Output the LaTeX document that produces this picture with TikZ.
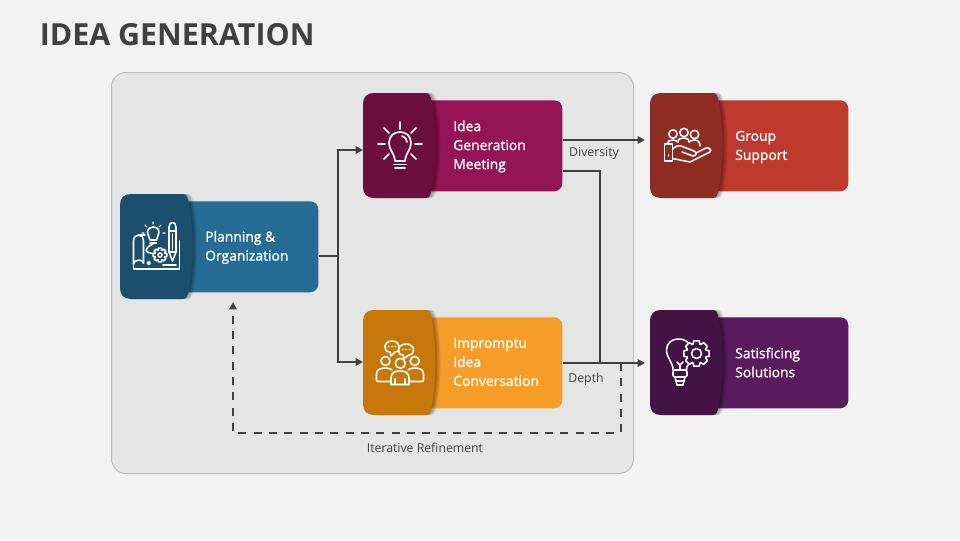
\documentclass[tikz,border=0pt]{standalone}
\usepackage{fontspec}
\setmainfont{Open Sans}
\newfontfamily\semi{Open Sans}[FakeBold=1.2]
\usetikzlibrary{arrows.meta,calc}
\definecolor{bg}{HTML}{F2F2F2}
\definecolor{panelfill}{HTML}{E5E5E5}
\definecolor{panelline}{HTML}{BDBDBD}
\definecolor{ink}{HTML}{404040}
\definecolor{blueL}{HTML}{266D96}\definecolor{blueD}{HTML}{1C4F6E}
\definecolor{magL}{HTML}{951455}\definecolor{magD}{HTML}{6D0F3E}
\definecolor{orgL}{HTML}{F59D27}\definecolor{orgD}{HTML}{C6780A}
\definecolor{redL}{HTML}{BE392E}\definecolor{redD}{HTML}{8E2B22}
\definecolor{purL}{HTML}{5A1A5E}\definecolor{purD}{HTML}{431346}
\tikzset{
  x=0.75pt,y=-0.75pt,
  bodybox/.style={rounded corners=6pt,minimum height=68.25pt,inner sep=0pt,anchor=north west},
  headbox/.style={minimum width=51pt,minimum height=78.75pt,inner sep=0pt,anchor=north west},
  cardtext/.style={text=white,anchor=west,align=left,inner sep=0pt,font=\semi\fontsize{10.4pt}{14.25pt}\selectfont},
  flowlabel/.style={text=ink,inner sep=0pt,font=\fontsize{9.2pt}{10pt}\selectfont},
  flow/.style={draw=ink,line width=1.5pt},
  flowarrow/.style={flow,-{Triangle[length=5.5pt,width=5.5pt]}},
  icon/.style={draw=white,line width=1.15pt,line cap=round,line join=round},
}
\newcommand{\headpath}{(11,0) -- (62,0) .. controls (66,0) and (67,2) .. (68,5) .. controls (74,35) and (74,70) .. (68,100) .. controls (67,103) and (66,105) .. (62,105) -- (11,105) .. controls (4,105) and (0,101) .. (0,94) -- (0,11) .. controls (0,4) and (4,0) .. (11,0) -- cycle}
% name, x, y, right edge, text position, light, dark, text
\newcommand{\card}[8]{%
  \begin{scope}[shift={(#2,#3)}]
    \node[bodybox,fill=#6,minimum width={(#4-#2-60)*0.75pt}] (#1) at (60,7) {};
    \foreach \o in {1,2,3,4,5}{\fill[black,opacity=0.08,shift={(\o,0)}] \headpath;}
    \fill[#7] \headpath;
    \node[headbox] (#1head) at (0,0) {};
  \end{scope}
  \node[cardtext] (#1text) at (#5) {#8};
}
% x,y,outer,inner,hole,fill
\newcommand{\gearicon}[6]{%
  \begin{scope}[shift={(#1,#2)}]
    \draw[icon,fill=#6] (-12:#3) \foreach \a in {0,45,...,315}{ -- (\a-12:#3) -- (\a+12:#3) -- (\a+20:#4) -- (\a+25:#4) } -- cycle;
    \draw[icon] (0,0) circle (#5);
  \end{scope}
}
\begin{document}
\begin{tikzpicture}
\useasboundingbox (0,0) rectangle (960,540);
\fill[bg] (0,0) rectangle (960,540);
\node[anchor=west,inner sep=0pt,text=ink,font=\bfseries\fontsize{22.8pt}{28pt}\selectfont] (title) at (39.5,35) {IDEA GENERATION};
\draw[panelline,fill=panelfill,line width=0.75pt,rounded corners=11pt] (111.5,72.5) rectangle (633.5,473.5);

\card{plan}{120}{194}{318}{205,247.5}{blueL}{blueD}{Planning \&\\Organization}
\card{idea}{363}{93}{562}{453,146.5}{magL}{magD}{Idea\\Generation\\Meeting}
\card{talk}{363}{310}{562}{453,362}{orgL}{orgD}{Impromptu\\Idea\\Conversation}
\card{group}{650}{93}{848}{735,147}{redL}{redD}{Group\\Support}
\card{solve}{650}{310}{848}{735,362.5}{purL}{purD}{Satisficing\\Solutions}

% icon: plan
\draw[icon] (133.5,264) -- (133.5,241) .. controls (133.5,233) and (143.5,233) .. (143.5,241) -- (143.5,263);
\draw[icon] (133.5,264) .. controls (133.5,259) and (143.5,259) .. (143.5,263);
\draw[icon] (133.5,264) -- (133.5,269) -- (179.5,269) -- (179.5,241);
\draw[icon] (139,235) -- (145,235);
\draw[icon] (150,240) .. controls (150,237) and (147.5,236) .. (147.5,232.5) .. controls (147.5,225) and (159,225) .. (159,232.5) .. controls (159,236) and (156.5,237) .. (156.5,240) -- cycle;
\draw[icon] (150,243) -- (156.5,243);
\draw[icon,line width=0.8pt] (153,222) -- (153,224) (145,225) -- (147,227) (161,225) -- (159,227) (142,233) -- (144,233) (163,233) -- (165,233);
\draw[icon] (153,244) .. controls (147,246) and (144,251) .. (148,252.5) -- (153,253.5);
\gearicon{160}{255}{7}{5}{2}{blueD}
\draw[icon] (148.7,263) circle (1.5);
\draw[icon] (163,265) -- (176,265);
\draw[icon] (169,227) .. controls (169,221) and (176,221) .. (176,227) -- (176,252) -- (172.5,261) -- (169,252) -- cycle;
\draw[icon] (169,231) -- (176,231) (169,252) -- (176,252);
\draw[icon] (172.5,234) -- (172.5,250);

% icon: idea
\begin{scope}[icon/.append style={line width=1.25pt}]
\draw[icon] (395,161) .. controls (394,152) and (389,150) .. (389,143) .. controls (389,136) and (394,132) .. (400,132) .. controls (406,132) and (411,136) .. (411,143) .. controls (411,150) and (406,152) .. (405,161) -- cycle;
\draw[icon] (402,136) .. controls (405,137) and (407,139) .. (407,142);
\draw[icon] (394,164.5) -- (406,164.5) (395,168) -- (405,168);
\draw[icon] (400,122) -- (400,129) (378,144) -- (385,144) (415,144) -- (422,144)
  (384,128) -- (389,133) (416,128) -- (411,133) (384,159) -- (389,154) (416,159) -- (411,154);
\end{scope}

% icon: talk
\draw[icon] (392,341) .. controls (401,341) and (401.5,352) .. (395,352) -- (391,356) -- (390,352) .. controls (382.5,352) and (383,341) .. (392,341) -- cycle;
\draw[icon,fill=orgD] (406,344) .. controls (415.5,344) and (415.5,355) .. (409,355) -- (404,358.5) -- (403,355) .. controls (396.5,355) and (396.5,344) .. (406,344) -- cycle;
\fill[white] (388.5,346.5) circle (0.8) (392,346.5) circle (0.8) (395.5,346.5) circle (0.8) (402.5,349.5) circle (0.8) (406,349.5) circle (0.8) (409.5,349.5) circle (0.8);
\draw[icon] (385.5,361) circle (4.5) (400.3,363.3) circle (5) (414.7,361) circle (4.5);
\draw[icon] (390,381.5) -- (378,381.5) .. controls (376.5,381.5) and (376.5,381) .. (376.5,380) -- (376.5,374) .. controls (376.5,369) and (381,368) .. (386,368) .. controls (389,368) and (391,369) .. (392,370);
\draw[icon] (410,381.5) -- (422,381.5) .. controls (423.5,381.5) and (423.5,381) .. (423.5,380) -- (423.5,374) .. controls (423.5,369) and (419,368) .. (414,368) .. controls (411,368) and (409,369) .. (408,370);
\draw[icon] (391,384.5) -- (391,378) .. controls (391,372) and (396,371) .. (400,371) .. controls (404,371) and (409,372) .. (409,378) -- (409,384.5) -- cycle;
\draw[icon] (395,379) -- (395,384) (405,379) -- (405,384);

% icon: group
\draw[icon] (673,134) circle (4.2) (684,132.5) circle (4.2) (694.5,134.5) circle (4.2);
\draw[icon] (667,144) .. controls (667,141) and (670,140) .. (673,140) .. controls (675,140) and (677,141) .. (678,142);
\draw[icon] (678,142) .. controls (678,138.5) and (681,138) .. (684,138) .. controls (686,138) and (689,138.5) .. (689,142);
\draw[icon] (689,142) .. controls (690,141) and (692,140) .. (694.5,140) .. controls (698,140) and (700,142) .. (700,146);
\draw[icon] (664.5,144) rectangle (672.5,161);
\draw[icon] (668.5,155) -- (668.5,156);
\draw[icon] (672.5,149) .. controls (675,147) and (677,145) .. (681,146) -- (694,151) .. controls (697,152) and (697,156) .. (693,156) -- (682,152);
\draw[icon] (696,153) -- (706,148) .. controls (709,147) and (712,150) .. (710,152) -- (690,162) -- (672.5,158.5);

% icon: solve
\draw[icon] (673,370) .. controls (673,362) and (666.5,358) .. (666.5,350) .. controls (666.5,343) and (672,339) .. (678,339) .. controls (682,339) and (686,340) .. (688,343);
\draw[icon] (686.5,370) .. controls (686.5,367) and (687,366) .. (689,364);
\draw[icon] (680,370) -- (680,365) -- (677,362) (680,365) -- (683,362);
\draw[icon,rounded corners=1.5pt] (673,370) rectangle (687,377);
\draw[icon] (675,377) -- (677,385) -- (683,385) -- (685,377);
\draw[icon] (675.5,381) -- (684.5,381);
\gearicon{696.5}{353.5}{13}{10}{5}{purD}

% connectors
\coordinate (split) at (338,256);
\draw[flow] (plan.east |- split) -- (split);
\draw[flowarrow] (split) |- (ideahead.west |- 0,150);
\draw[flowarrow] (split) |- (talkhead.west |- 0,362);
\draw[flowarrow,shorten >=3.75pt] (idea.east |- 0,140) -- (grouphead.west |- 0,140);
\coordinate (merge) at (600,363);
\draw[flow] (idea.east |- 0,171) -| (merge);
\draw[flowarrow,shorten >=3.75pt] (talk.east |- merge) -- (solvehead.west |- merge);
\coordinate (loopstart) at (621,363);
\coordinate (looptarget) at (233,302);
\draw[flowarrow,dash pattern=on 6pt off 5.5pt] (loopstart) -- (621,433) -- (233,433) -- (looptarget);

% labels
\node[flowlabel] (diversity) at (594,153.5) {Diversity};
\node[flowlabel] (depth) at (586,379) {Depth};
\node[flowlabel] (iter) at (425,448) {Iterative Refinement};
\end{tikzpicture}
\end{document}
